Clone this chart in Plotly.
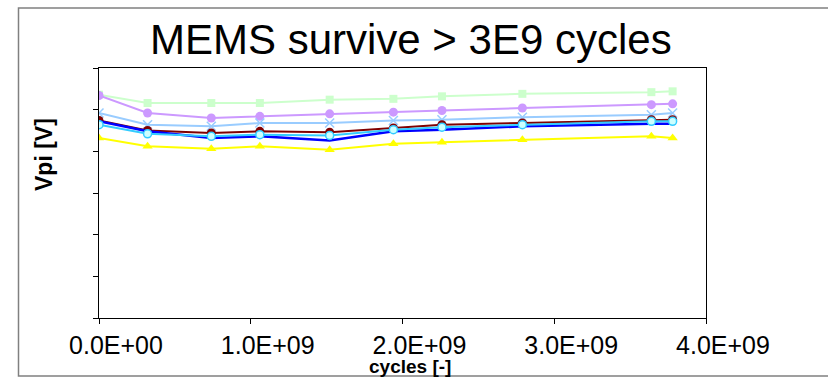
import plotly.graph_objects as go

cycles = [0, 0.32e9, 0.74e9, 1.06e9, 1.52e9, 1.94e9, 2.26e9, 2.79e9, 3.64e9, 3.78e9]

s_green = [26.8, 25.8, 25.8, 25.8, 26.2, 26.3, 26.6, 26.9, 27.1, 27.2]
s_purple = [26.7, 24.6, 24.0, 24.2, 24.5, 24.7, 24.9, 25.2, 25.6, 25.7]
s_lightblue = [24.6, 23.2, 23.0, 23.4, 23.4, 23.7, 23.8, 24.1, 24.4, 24.6]
s_darkred = [23.7, 22.5, 22.2, 22.4, 22.3, 22.8, 23.2, 23.4, 23.8, 23.8]
s_blue = [23.6, 22.4, 21.6, 21.8, 21.3, 22.4, 22.6, 23.0, 23.3, 23.3]
s_cyan = [23.2, 22.1, 21.8, 22.0, 21.9, 22.6, 22.9, 23.2, 23.6, 23.6]
s_yellow = [21.6, 20.6, 20.3, 20.6, 20.2, 20.9, 21.1, 21.4, 21.8, 21.6]

x_tickvals = [0, 1e9, 2e9, 3e9, 4e9]
x_ticktext = ["0.0E+00", "1.0E+09", "2.0E+09", "3.0E+09", "4.0E+09"]
y_tickvals = [0, 5, 10, 15, 20, 25, 30]

title_text = "MEMS survive > 3E9 cycles"
x_title = "cycles [-]"
y_title = "Vpi [V]"

fig = go.Figure()

def add(y, color, symbol, msize, mcolor=None, mline=None, lw=2):
    fig.add_trace(go.Scatter(
        x=cycles, y=y, mode="lines+markers" if symbol else "lines",
        line=dict(color=color, width=lw),
        marker=dict(symbol=symbol or "circle", size=msize,
                    color=mcolor or color,
                    line=dict(color=mline or (mcolor or color), width=1.5 if mline else 0)),
        showlegend=False, hoverinfo="x+y"))

add(s_green, "#ccffcc", "square", 8)
add(s_purple, "#cc99ff", "circle", 9)
add(s_lightblue, "#99ccff", "x-thin", 9, mline="#99ccff")
add(s_darkred, "#800000", "circle", 9)
add(s_blue, "#0000ff", None, 0, lw=2.5)
add(s_cyan, "#33ccff", "circle", 8, mcolor="#ccffff", mline="#33ccff")
add(s_yellow, "#ffff00", "triangle-up", 9)

fig.update_layout(
    width=828, height=378,
    margin=dict(l=99, r=122, t=68, b=60),
    paper_bgcolor="white", plot_bgcolor="white",
    font=dict(family="Liberation Sans, Arial, sans-serif", color="black"),
    xaxis=dict(range=[0, 4e9], tickvals=x_tickvals, ticktext=x_ticktext,
               showgrid=False, zeroline=False, showline=True, linecolor="black",
               linewidth=1, mirror=True, ticks="outside", ticklen=5,
               tickcolor="black", tickfont=dict(size=25), ticklabelshift=17),
    yaxis=dict(range=[0, 30], tickvals=y_tickvals, showticklabels=False,
               showgrid=False, zeroline=False, showline=True, linecolor="black",
               linewidth=1, mirror=True, ticks="outside", ticklen=5,
               tickcolor="black"),
)

fig.add_annotation(text=title_text, xref="paper", yref="paper",
                   x=(411 - 99) / 607, y=(318 - 40) / 250,
                   xanchor="center", yanchor="middle", showarrow=False,
                   font=dict(size=42, color="black"))
fig.add_annotation(text="<b>" + x_title + "</b>", xref="paper", yref="paper",
                   x=(410 - 99) / 607, y=(318 - 366) / 250,
                   xanchor="center", yanchor="middle", showarrow=False,
                   font=dict(size=19, color="black"))
fig.add_annotation(text="<b>" + y_title + "</b>", xref="paper", yref="paper",
                   x=(44 - 99) / 607, y=(318 - 155) / 250, textangle=-90,
                   xanchor="center", yanchor="middle", showarrow=False,
                   font=dict(size=23, color="black"))

fig.add_shape(type="rect", xref="paper", yref="paper",
              x0=(18.5 - 99) / 607, x1=(832 - 99) / 607,
              y0=(318 - 376) / 250, y1=(318 - 8) / 250,
              line=dict(color="#808080", width=1.5), layer="below")

fig.write_html("out.html", config={"displayModeBar": False},
               post_script="document.body.style.margin='0px';document.body.style.overflow='hidden';")
